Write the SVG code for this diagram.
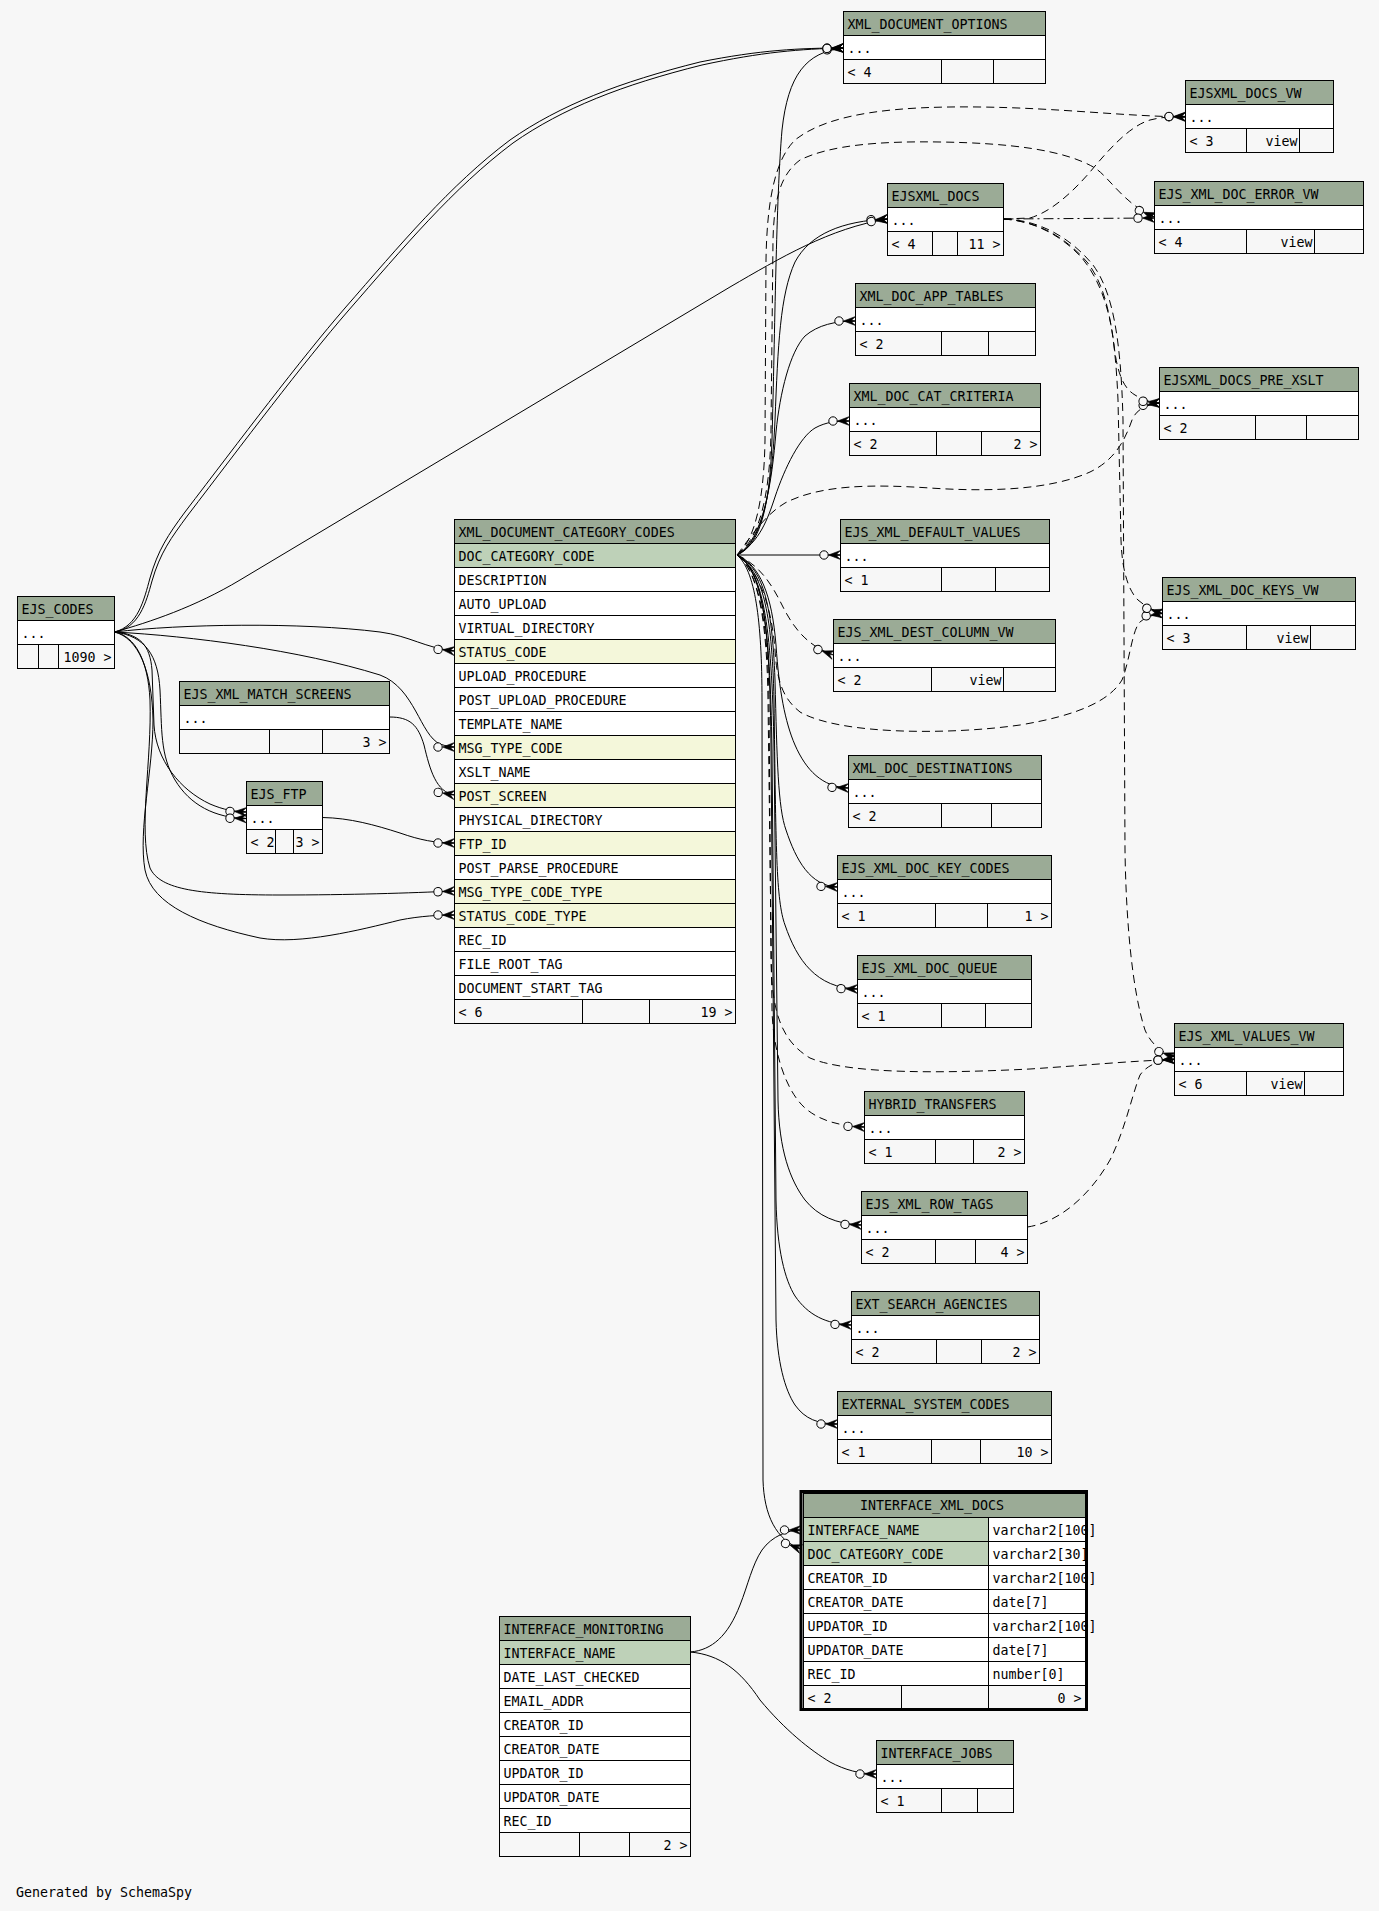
<svg xmlns="http://www.w3.org/2000/svg" width="1379" height="1911" viewBox="0 0 1379 1911">
<style>
text{font-family:"DejaVu Sans Mono","Liberation Mono",monospace;font-size:13.3px;fill:#000}
.e{text-anchor:end}
.h{fill:#9bab96;stroke:#000;stroke-width:1}
.r{fill:#fff;stroke:#000;stroke-width:1}
.f{fill:#f7f7f7;stroke:#000;stroke-width:1}
.p{fill:#bed1b8;stroke:#000;stroke-width:1}
.x{fill:#f4f7da;stroke:#000;stroke-width:1}
.d{stroke:#000;stroke-width:1;fill:none}
.c{fill:none;stroke:#000;stroke-width:1;marker-end:url(#crow)}
.ds{stroke-dasharray:8 5}
.dd{stroke-dasharray:10 4 2 4}
</style>
<defs>
<marker id="crow" markerUnits="userSpaceOnUse" markerWidth="30" markerHeight="14" refX="0" refY="0" orient="auto" overflow="visible">
<circle cx="-16.5" cy="0" r="4.2" fill="#f7f7f7" stroke="#000" stroke-width="1"/>
<path d="M-12,0 L0,-4.5 L-4,-0.7 L0,0 L-4,0.7 L0,4.5 Z" fill="#000" stroke="#000" stroke-width="0.6"/>
</marker>
</defs>
<rect x="0" y="0" width="1379" height="1911" fill="#f7f7f7"/>

<g id="connectors">
<!-- from XML_DOCUMENT_CATEGORY_CODES.DOC_CATEGORY_CODE -->
<path class="c" d="M737,555 C762,545 770,500 772,440 C775,330 776,200 782,130 C788,75 806,52 843.5,48"/>
<path class="c" d="M737,555 C764,542 772,485 775,420 C778,345 780,295 795,262 C810,234 842,221 887.5,219"/>
<path class="c" d="M737,555 C764,540 772,480 776,432 C780,392 790,352 805,336 C818,325 835,321 855.5,321"/>
<path class="c" d="M737,555 C760,542 768,518 775,497 C785,467 800,437 815,428 C826,422 836,421 849.5,421"/>
<path class="c" d="M737,555 L840.5,555"/>
<path class="c" d="M737,555 C760,565 772,595 776,645 C779,690 785,722 795,745 C806,770 822,787 848.5,788"/>
<path class="c" d="M737,555 C762,568 772,600 775,680 C777,760 778,808 786,830 C796,860 810,886 837.5,887"/>
<path class="c" d="M737,555 C762,570 772,610 774,700 C776,850 776,900 785,925 C797,960 816,988 857.5,989"/>
<path class="c" d="M737,555 C762,570 772,620 774,750 L778,1100 C779,1150 790,1180 805,1200 C818,1216 836,1224 861.5,1225"/>
<path class="c" d="M737,555 C762,570 770,620 772,750 L776,1200 C777,1250 785,1280 795,1296 C808,1315 826,1324 851.5,1325"/>
<path class="c" d="M737,555 C762,570 770,620 771,750 L776,1320 C777,1362 785,1390 795,1405 C805,1419 818,1424 837.5,1424"/>
<path class="c" d="M737,555 C755,570 762,620 762,700 L763,1480 C764,1515 776,1540 801,1549"/>
<path class="c ds" d="M737,555 C755,540 764,500 765,440 L766,260 C767,200 775,160 795,140 C830,112 900,106 980,107 C1060,108 1120,116 1185.5,117"/>
<path class="c ds" d="M737,555 C758,540 770,500 771,430 L773,240 C774,200 780,175 800,160 C830,145 880,141 940,142 C1010,143 1065,150 1095,168 C1110,178 1124,204 1154.5,217"/>
<path class="c ds" d="M737,555 C752,535 765,515 785,503 C820,485 870,484 930,488 C990,492 1050,490 1090,472 C1115,460 1125,440 1132,420 C1136,410 1145,405 1159.5,403"/>
<path class="c ds" d="M737,555 C760,565 772,585 782,605 C792,625 805,645 833.5,655"/>
<path class="c ds" d="M737,555 C760,570 772,610 775,650 C777,685 785,700 800,712 C840,735 950,735 1020,725 C1080,715 1110,700 1122,680 C1130,660 1132,630 1140,622 C1146,617 1152,615 1162.5,613.5"/>
<path class="c ds" d="M737,555 C758,570 768,620 769,700 L771,960 C772,1010 780,1040 810,1058 C850,1075 950,1073 1030,1069 C1090,1065 1130,1061 1174.5,1059.5"/>
<path class="c ds" d="M737,555 C758,570 767,620 768,700 L772,1010 C773,1050 785,1090 805,1108 C820,1121 840,1126 864.5,1127"/>
<!-- from EJSXML_DOCS -->
<path class="c ds" d="M1003.5,219 L1030,218 C1050,212 1070,195 1090,172 C1110,148 1130,126 1150,120 C1162,117 1172,116.5 1185.5,116.5"/>
<path class="c dd" d="M1003.5,219 L1154.5,218"/>
<path class="c ds" d="M1003.5,219 C1035,221 1062,236 1082,258 C1100,280 1110,310 1114,345 C1117,372 1123,388 1135,395 C1143,400 1150,402 1159.5,403"/>
<path class="c ds" d="M1003.5,219 C1040,221 1068,240 1087,262 C1107,287 1115,330 1118,400 L1121,540 C1122,570 1128,590 1138,600 C1145,606 1152,610 1162.5,613.5"/>
<path class="c ds" d="M1003.5,219 C1045,220 1075,243 1093,265 C1113,292 1121,340 1123,420 L1125,850 C1126,920 1132,990 1145,1030 C1150,1042 1160,1052 1174.5,1057"/>
<!-- from EJS_XML_ROW_TAGS -->
<path class="c ds" d="M1027.5,1227 C1060,1222 1090,1195 1110,1160 C1125,1130 1132,1095 1140,1075 C1147,1065 1160,1060 1174.5,1059"/>
<!-- from EJS_CODES -->
<path class="c" d="M114.5,632 C138,626 144,600 150,578 C158,550 168,535 185,512 C240,440 300,360 345,308 C400,245 450,185 510,140 C560,105 620,82 700,62 C760,50 800,48 843.5,48"/>
<path class="c" d="M114.5,632 C139,628 146,603 152,581 C160,553 171,538 188,515 C243,443 303,363 348,311 C403,248 453,188 513,143 C563,108 622,85 702,65 C762,52 800,49 843.5,48"/>
<path class="c" d="M114.5,632 C150,622 195,607 240,580 L730,287 C780,258 830,228 887.5,219"/>
<path class="c" d="M114.5,632 C180,624 300,622 380,632 C410,636 425,648 454.5,651"/>
<path class="c" d="M114.5,632 C190,636 300,650 380,675 C415,688 420,735 440,744 C446,746 450,747 454.5,747"/>
<path class="c" d="M114.5,632 C140,634 150,645 152,670 L154,725 C156,760 180,790 210,804 C224,810 234,811.5 246.5,812"/>
<path class="c" d="M114.5,632 C145,636 158,655 160,690 C162,730 160,755 175,780 C190,805 215,818 246.5,818.5"/>
<path class="c" d="M114.5,632 C135,636 148,660 150,700 C152,760 138,830 150,868 C160,890 200,895 280,895 C350,895 410,893 454.5,891"/>
<path class="c" d="M114.5,632 C138,638 152,670 153,720 C153,770 138,830 145,870 C152,905 200,925 260,938 C300,945 360,930 400,920 C420,916 440,915 454.5,915"/>
<!-- others -->
<path class="c" d="M389.5,717 C410,717 418,725 424,745 C430,770 436,792 454.5,795"/>
<path class="c" d="M322.5,817.5 C350,818 375,825 400,833 C420,840 435,843 454.5,843"/>
<path class="c" d="M690.5,1652 C712,1650 728,1636 740,1605 C748,1585 752,1565 762,1550 C772,1536 788,1530 801,1530"/>
<path class="c" d="M690.5,1652 C720,1655 740,1670 760,1700 C785,1730 810,1750 830,1762 C845,1770 860,1774 876.5,1774"/>
</g>

<g id="XML_DOCUMENT_OPTIONS">
<rect class="h" x="843.5" y="11.5" width="202" height="24"/><rect class="r" x="843.5" y="35.5" width="202" height="24"/><rect class="f" x="843.5" y="59.5" width="202" height="24"/>
<path class="d" d="M941.5,59.5v24M993.5,59.5v24"/>
<text x="847.5" y="28.5">XML_DOCUMENT_OPTIONS</text><text x="847.5" y="52.5">...</text><text x="847.5" y="76.5">&lt; 4</text>
</g>
<g id="EJSXML_DOCS_VW">
<rect class="h" x="1185.5" y="80.5" width="148" height="24"/><rect class="r" x="1185.5" y="104.5" width="148" height="24"/><rect class="f" x="1185.5" y="128.5" width="148" height="24"/>
<path class="d" d="M1246.5,128.5v24M1299.5,128.5v24"/>
<text x="1189.5" y="97.5">EJSXML_DOCS_VW</text><text x="1189.5" y="121.5">...</text><text x="1189.5" y="145.5">&lt; 3</text><text class="e" x="1297.5" y="145.5">view</text>
</g>
<g id="EJSXML_DOCS">
<rect class="h" x="887.5" y="183.5" width="116" height="24"/><rect class="r" x="887.5" y="207.5" width="116" height="24"/><rect class="f" x="887.5" y="231.5" width="116" height="24"/>
<path class="d" d="M932.5,231.5v24M957.5,231.5v24"/>
<text x="891.5" y="200.5">EJSXML_DOCS</text><text x="891.5" y="224.5">...</text><text x="891.5" y="248.5">&lt; 4</text><text class="e" x="1000.5" y="248.5">11 &gt;</text>
</g>
<g id="EJS_XML_DOC_ERROR_VW">
<rect class="h" x="1154.5" y="181.5" width="209" height="24"/><rect class="r" x="1154.5" y="205.5" width="209" height="24"/><rect class="f" x="1154.5" y="229.5" width="209" height="24"/>
<path class="d" d="M1246.5,229.5v24M1314.5,229.5v24"/>
<text x="1158.5" y="198.5">EJS_XML_DOC_ERROR_VW</text><text x="1158.5" y="222.5">...</text><text x="1158.5" y="246.5">&lt; 4</text><text class="e" x="1312.5" y="246.5">view</text>
</g>
<g id="XML_DOC_APP_TABLES">
<rect class="h" x="855.5" y="283.5" width="180" height="24"/><rect class="r" x="855.5" y="307.5" width="180" height="24"/><rect class="f" x="855.5" y="331.5" width="180" height="24"/>
<path class="d" d="M941.5,331.5v24M988.5,331.5v24"/>
<text x="859.5" y="300.5">XML_DOC_APP_TABLES</text><text x="859.5" y="324.5">...</text><text x="859.5" y="348.5">&lt; 2</text>
</g>
<g id="XML_DOC_CAT_CRITERIA">
<rect class="h" x="849.5" y="383.5" width="191" height="24"/><rect class="r" x="849.5" y="407.5" width="191" height="24"/><rect class="f" x="849.5" y="431.5" width="191" height="24"/>
<path class="d" d="M936.5,431.5v24M981.5,431.5v24"/>
<text x="853.5" y="400.5">XML_DOC_CAT_CRITERIA</text><text x="853.5" y="424.5">...</text><text x="853.5" y="448.5">&lt; 2</text><text class="e" x="1037.5" y="448.5">2 &gt;</text>
</g>
<g id="EJSXML_DOCS_PRE_XSLT">
<rect class="h" x="1159.5" y="367.5" width="199" height="24"/><rect class="r" x="1159.5" y="391.5" width="199" height="24"/><rect class="f" x="1159.5" y="415.5" width="199" height="24"/>
<path class="d" d="M1255.5,415.5v24M1306.5,415.5v24"/>
<text x="1163.5" y="384.5">EJSXML_DOCS_PRE_XSLT</text><text x="1163.5" y="408.5">...</text><text x="1163.5" y="432.5">&lt; 2</text>
</g>
<g id="EJS_XML_DEFAULT_VALUES">
<rect class="h" x="840.5" y="519.5" width="209" height="24"/><rect class="r" x="840.5" y="543.5" width="209" height="24"/><rect class="f" x="840.5" y="567.5" width="209" height="24"/>
<path class="d" d="M941.5,567.5v24M995.5,567.5v24"/>
<text x="844.5" y="536.5">EJS_XML_DEFAULT_VALUES</text><text x="844.5" y="560.5">...</text><text x="844.5" y="584.5">&lt; 1</text>
</g>
<g id="EJS_XML_DOC_KEYS_VW">
<rect class="h" x="1162.5" y="577.5" width="193" height="24"/><rect class="r" x="1162.5" y="601.5" width="193" height="24"/><rect class="f" x="1162.5" y="625.5" width="193" height="24"/>
<path class="d" d="M1246.5,625.5v24M1310.5,625.5v24"/>
<text x="1166.5" y="594.5">EJS_XML_DOC_KEYS_VW</text><text x="1166.5" y="618.5">...</text><text x="1166.5" y="642.5">&lt; 3</text><text class="e" x="1308.5" y="642.5">view</text>
</g>
<g id="EJS_XML_DEST_COLUMN_VW">
<rect class="h" x="833.5" y="619.5" width="222" height="24"/><rect class="r" x="833.5" y="643.5" width="222" height="24"/><rect class="f" x="833.5" y="667.5" width="222" height="24"/>
<path class="d" d="M931.5,667.5v24M1003.5,667.5v24"/>
<text x="837.5" y="636.5">EJS_XML_DEST_COLUMN_VW</text><text x="837.5" y="660.5">...</text><text x="837.5" y="684.5">&lt; 2</text><text class="e" x="1001.5" y="684.5">view</text>
</g>
<g id="XML_DOC_DESTINATIONS">
<rect class="h" x="848.5" y="755.5" width="193" height="24"/><rect class="r" x="848.5" y="779.5" width="193" height="24"/><rect class="f" x="848.5" y="803.5" width="193" height="24"/>
<path class="d" d="M941.5,803.5v24M991.5,803.5v24"/>
<text x="852.5" y="772.5">XML_DOC_DESTINATIONS</text><text x="852.5" y="796.5">...</text><text x="852.5" y="820.5">&lt; 2</text>
</g>
<g id="EJS_XML_DOC_KEY_CODES">
<rect class="h" x="837.5" y="855.5" width="214" height="24"/><rect class="r" x="837.5" y="879.5" width="214" height="24"/><rect class="f" x="837.5" y="903.5" width="214" height="24"/>
<path class="d" d="M935.5,903.5v24M987.5,903.5v24"/>
<text x="841.5" y="872.5">EJS_XML_DOC_KEY_CODES</text><text x="841.5" y="896.5">...</text><text x="841.5" y="920.5">&lt; 1</text><text class="e" x="1048.5" y="920.5">1 &gt;</text>
</g>
<g id="EJS_XML_DOC_QUEUE">
<rect class="h" x="857.5" y="955.5" width="174" height="24"/><rect class="r" x="857.5" y="979.5" width="174" height="24"/><rect class="f" x="857.5" y="1003.5" width="174" height="24"/>
<path class="d" d="M941.5,1003.5v24M985.5,1003.5v24"/>
<text x="861.5" y="972.5">EJS_XML_DOC_QUEUE</text><text x="861.5" y="996.5">...</text><text x="861.5" y="1020.5">&lt; 1</text>
</g>
<g id="EJS_XML_VALUES_VW">
<rect class="h" x="1174.5" y="1023.5" width="169" height="24"/><rect class="r" x="1174.5" y="1047.5" width="169" height="24"/><rect class="f" x="1174.5" y="1071.5" width="169" height="24"/>
<path class="d" d="M1246.5,1071.5v24M1304.5,1071.5v24"/>
<text x="1178.5" y="1040.5">EJS_XML_VALUES_VW</text><text x="1178.5" y="1064.5">...</text><text x="1178.5" y="1088.5">&lt; 6</text><text class="e" x="1302.5" y="1088.5">view</text>
</g>
<g id="HYBRID_TRANSFERS">
<rect class="h" x="864.5" y="1091.5" width="160" height="24"/><rect class="r" x="864.5" y="1115.5" width="160" height="24"/><rect class="f" x="864.5" y="1139.5" width="160" height="24"/>
<path class="d" d="M935.5,1139.5v24M973.5,1139.5v24"/>
<text x="868.5" y="1108.5">HYBRID_TRANSFERS</text><text x="868.5" y="1132.5">...</text><text x="868.5" y="1156.5">&lt; 1</text><text class="e" x="1021.5" y="1156.5">2 &gt;</text>
</g>
<g id="EJS_XML_ROW_TAGS">
<rect class="h" x="861.5" y="1191.5" width="166" height="24"/><rect class="r" x="861.5" y="1215.5" width="166" height="24"/><rect class="f" x="861.5" y="1239.5" width="166" height="24"/>
<path class="d" d="M935.5,1239.5v24M975.5,1239.5v24"/>
<text x="865.5" y="1208.5">EJS_XML_ROW_TAGS</text><text x="865.5" y="1232.5">...</text><text x="865.5" y="1256.5">&lt; 2</text><text class="e" x="1024.5" y="1256.5">4 &gt;</text>
</g>
<g id="EXT_SEARCH_AGENCIES">
<rect class="h" x="851.5" y="1291.5" width="188" height="24"/><rect class="r" x="851.5" y="1315.5" width="188" height="24"/><rect class="f" x="851.5" y="1339.5" width="188" height="24"/>
<path class="d" d="M936.5,1339.5v24M981.5,1339.5v24"/>
<text x="855.5" y="1308.5">EXT_SEARCH_AGENCIES</text><text x="855.5" y="1332.5">...</text><text x="855.5" y="1356.5">&lt; 2</text><text class="e" x="1036.5" y="1356.5">2 &gt;</text>
</g>
<g id="EXTERNAL_SYSTEM_CODES">
<rect class="h" x="837.5" y="1391.5" width="214" height="24"/><rect class="r" x="837.5" y="1415.5" width="214" height="24"/><rect class="f" x="837.5" y="1439.5" width="214" height="24"/>
<path class="d" d="M931.5,1439.5v24M980.5,1439.5v24"/>
<text x="841.5" y="1408.5">EXTERNAL_SYSTEM_CODES</text><text x="841.5" y="1432.5">...</text><text x="841.5" y="1456.5">&lt; 1</text><text class="e" x="1048.5" y="1456.5">10 &gt;</text>
</g>
<g id="EJS_CODES">
<rect class="h" x="17.5" y="596.5" width="97" height="24"/><rect class="r" x="17.5" y="620.5" width="97" height="24"/><rect class="f" x="17.5" y="644.5" width="97" height="24"/>
<path class="d" d="M38.5,644.5v24M58.5,644.5v24"/>
<text x="21.5" y="613.5">EJS_CODES</text><text x="21.5" y="637.5">...</text><text class="e" x="111.5" y="661.5">1090 &gt;</text>
</g>
<g id="EJS_XML_MATCH_SCREENS">
<rect class="h" x="179.5" y="681.5" width="210" height="24"/><rect class="r" x="179.5" y="705.5" width="210" height="24"/><rect class="f" x="179.5" y="729.5" width="210" height="24"/>
<path class="d" d="M269.5,729.5v24M322.5,729.5v24"/>
<text x="183.5" y="698.5">EJS_XML_MATCH_SCREENS</text><text x="183.5" y="722.5">...</text><text class="e" x="386.5" y="746.5">3 &gt;</text>
</g>
<g id="EJS_FTP">
<rect class="h" x="246.5" y="781.5" width="76" height="24"/><rect class="r" x="246.5" y="805.5" width="76" height="24"/><rect class="f" x="246.5" y="829.5" width="76" height="24"/>
<path class="d" d="M275.5,829.5v24M293.5,829.5v24"/>
<text x="250.5" y="798.5">EJS_FTP</text><text x="250.5" y="822.5">...</text><text x="250.5" y="846.5">&lt; 2</text><text class="e" x="319.5" y="846.5">3 &gt;</text>
</g>
<g id="INTERFACE_JOBS">
<rect class="h" x="876.5" y="1740.5" width="137" height="24"/><rect class="r" x="876.5" y="1764.5" width="137" height="24"/><rect class="f" x="876.5" y="1788.5" width="137" height="24"/>
<path class="d" d="M941.5,1788.5v24M977.5,1788.5v24"/>
<text x="880.5" y="1757.5">INTERFACE_JOBS</text><text x="880.5" y="1781.5">...</text><text x="880.5" y="1805.5">&lt; 1</text>
</g>

<g id="XML_DOCUMENT_CATEGORY_CODES">
<rect class="h" x="454.5" y="519.5" width="281" height="24"/>
<rect class="p" x="454.5" y="543.5" width="281" height="24"/>
<rect class="r" x="454.5" y="567.5" width="281" height="24"/>
<rect class="r" x="454.5" y="591.5" width="281" height="24"/>
<rect class="r" x="454.5" y="615.5" width="281" height="24"/>
<rect class="x" x="454.5" y="639.5" width="281" height="24"/>
<rect class="r" x="454.5" y="663.5" width="281" height="24"/>
<rect class="r" x="454.5" y="687.5" width="281" height="24"/>
<rect class="r" x="454.5" y="711.5" width="281" height="24"/>
<rect class="x" x="454.5" y="735.5" width="281" height="24"/>
<rect class="r" x="454.5" y="759.5" width="281" height="24"/>
<rect class="x" x="454.5" y="783.5" width="281" height="24"/>
<rect class="r" x="454.5" y="807.5" width="281" height="24"/>
<rect class="x" x="454.5" y="831.5" width="281" height="24"/>
<rect class="r" x="454.5" y="855.5" width="281" height="24"/>
<rect class="x" x="454.5" y="879.5" width="281" height="24"/>
<rect class="x" x="454.5" y="903.5" width="281" height="24"/>
<rect class="r" x="454.5" y="927.5" width="281" height="24"/>
<rect class="r" x="454.5" y="951.5" width="281" height="24"/>
<rect class="r" x="454.5" y="975.5" width="281" height="24"/>
<rect class="f" x="454.5" y="999.5" width="281" height="24"/>
<path class="d" d="M582.5,999.5v24M649.5,999.5v24"/>
<text x="458.5" y="536.5">XML_DOCUMENT_CATEGORY_CODES</text>
<text x="458.5" y="560.5">DOC_CATEGORY_CODE</text>
<text x="458.5" y="584.5">DESCRIPTION</text>
<text x="458.5" y="608.5">AUTO_UPLOAD</text>
<text x="458.5" y="632.5">VIRTUAL_DIRECTORY</text>
<text x="458.5" y="656.5">STATUS_CODE</text>
<text x="458.5" y="680.5">UPLOAD_PROCEDURE</text>
<text x="458.5" y="704.5">POST_UPLOAD_PROCEDURE</text>
<text x="458.5" y="728.5">TEMPLATE_NAME</text>
<text x="458.5" y="752.5">MSG_TYPE_CODE</text>
<text x="458.5" y="776.5">XSLT_NAME</text>
<text x="458.5" y="800.5">POST_SCREEN</text>
<text x="458.5" y="824.5">PHYSICAL_DIRECTORY</text>
<text x="458.5" y="848.5">FTP_ID</text>
<text x="458.5" y="872.5">POST_PARSE_PROCEDURE</text>
<text x="458.5" y="896.5">MSG_TYPE_CODE_TYPE</text>
<text x="458.5" y="920.5">STATUS_CODE_TYPE</text>
<text x="458.5" y="944.5">REC_ID</text>
<text x="458.5" y="968.5">FILE_ROOT_TAG</text>
<text x="458.5" y="992.5">DOCUMENT_START_TAG</text>
<text x="458.5" y="1016.5">&lt; 6</text>
<text class="e" x="732.5" y="1016.5">19 &gt;</text>
</g>

<g id="INTERFACE_MONITORING">
<rect class="h" x="499.5" y="1616.5" width="191" height="24"/>
<rect class="p" x="499.5" y="1640.5" width="191" height="24"/>
<rect class="r" x="499.5" y="1664.5" width="191" height="24"/>
<rect class="r" x="499.5" y="1688.5" width="191" height="24"/>
<rect class="r" x="499.5" y="1712.5" width="191" height="24"/>
<rect class="r" x="499.5" y="1736.5" width="191" height="24"/>
<rect class="r" x="499.5" y="1760.5" width="191" height="24"/>
<rect class="r" x="499.5" y="1784.5" width="191" height="24"/>
<rect class="r" x="499.5" y="1808.5" width="191" height="24"/>
<rect class="f" x="499.5" y="1832.5" width="191" height="24"/>
<path class="d" d="M579.5,1832.5v24M629.5,1832.5v24"/>
<text x="503.5" y="1633.5">INTERFACE_MONITORING</text>
<text x="503.5" y="1657.5">INTERFACE_NAME</text>
<text x="503.5" y="1681.5">DATE_LAST_CHECKED</text>
<text x="503.5" y="1705.5">EMAIL_ADDR</text>
<text x="503.5" y="1729.5">CREATOR_ID</text>
<text x="503.5" y="1753.5">CREATOR_DATE</text>
<text x="503.5" y="1777.5">UPDATOR_ID</text>
<text x="503.5" y="1801.5">UPDATOR_DATE</text>
<text x="503.5" y="1825.5">REC_ID</text>
<text class="e" x="687.5" y="1849.5">2 &gt;</text>
</g>

<g id="INTERFACE_XML_DOCS">
<rect class="h" x="803.5" y="1493.5" width="282" height="24"/>
<rect class="p" x="803.5" y="1517.5" width="185" height="24"/><rect class="r" x="988.5" y="1517.5" width="97" height="24"/>
<rect class="p" x="803.5" y="1541.5" width="185" height="24"/><rect class="r" x="988.5" y="1541.5" width="97" height="24"/>
<rect class="r" x="803.5" y="1565.5" width="185" height="24"/><rect class="r" x="988.5" y="1565.5" width="97" height="24"/>
<rect class="r" x="803.5" y="1589.5" width="185" height="24"/><rect class="r" x="988.5" y="1589.5" width="97" height="24"/>
<rect class="r" x="803.5" y="1613.5" width="185" height="24"/><rect class="r" x="988.5" y="1613.5" width="97" height="24"/>
<rect class="r" x="803.5" y="1637.5" width="185" height="24"/><rect class="r" x="988.5" y="1637.5" width="97" height="24"/>
<rect class="r" x="803.5" y="1661.5" width="185" height="24"/><rect class="r" x="988.5" y="1661.5" width="97" height="24"/>
<rect class="f" x="803.5" y="1685.5" width="282" height="24"/>
<path class="d" d="M901.5,1685.5v24M988.5,1685.5v24"/>
<text x="860" y="1510">INTERFACE_XML_DOCS</text>
<text x="807.5" y="1534.5">INTERFACE_NAME</text><text x="992.5" y="1534.5">varchar2[100]</text>
<text x="807.5" y="1558.5">DOC_CATEGORY_CODE</text><text x="992.5" y="1558.5">varchar2[30]</text>
<text x="807.5" y="1582.5">CREATOR_ID</text><text x="992.5" y="1582.5">varchar2[100]</text>
<text x="807.5" y="1606.5">CREATOR_DATE</text><text x="992.5" y="1606.5">date[7]</text>
<text x="807.5" y="1630.5">UPDATOR_ID</text><text x="992.5" y="1630.5">varchar2[100]</text>
<text x="807.5" y="1654.5">UPDATOR_DATE</text><text x="992.5" y="1654.5">date[7]</text>
<text x="807.5" y="1678.5">REC_ID</text><text x="992.5" y="1678.5">number[0]</text>
<text x="807.5" y="1702.5">&lt; 2</text><text class="e" x="1081.5" y="1702.5">0 &gt;</text>
<rect x="801" y="1491.5" width="285.5" height="218" fill="none" stroke="#000" stroke-width="3"/>
</g>

<text x="16" y="1897">Generated by SchemaSpy</text>
</svg>
